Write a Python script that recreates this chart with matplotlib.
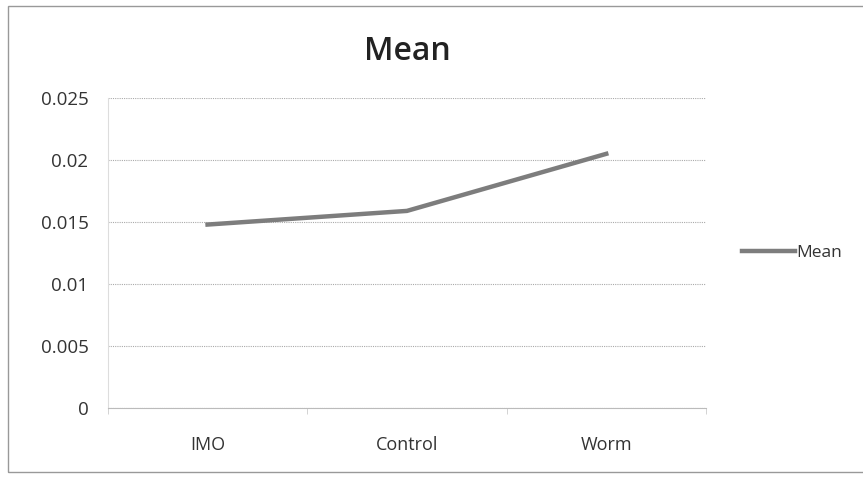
import matplotlib.pyplot as plt
from matplotlib.patches import Rectangle

categorias = ['IMO', 'Control', 'Worm']
medias = [0.0148, 0.0159, 0.0205]
yticks = [0, 0.005, 0.01, 0.015, 0.02, 0.025]
ytick_labels = ['0', '0.005', '0.01', '0.015', '0.02', '0.025']

plt.rcParams['font.family'] = ['Open Sans', 'DejaVu Sans']

fig = plt.figure(figsize=(8.63, 4.78), dpi=100)
ax = fig.add_axes([0.125, 0.146, 0.693, 0.649])

x = list(range(len(categorias)))
ax.plot(x, medias, color='#7d7d7d', linewidth=3.2, label='Mean')

ax.set_xlim(-0.5, len(categorias) - 0.5)
ax.set_ylim(0, 0.025)
ax.set_yticks(yticks)
ax.set_yticklabels(ytick_labels, fontsize=13.5, color='#333333')
ax.set_xticks(x)
ax.set_xticklabels(categorias, fontsize=13, color='#333333')
ax.tick_params(axis='y', length=0, pad=14)
ax.tick_params(axis='x', length=0, pad=20)
ax.set_xticks([-0.5, 0.5, 1.5, 2.5], minor=True)
ax.tick_params(axis='x', which='minor', length=4, color='#cccccc', direction='out')

ax.grid(axis='y', color='#aaaaaa', linestyle=(0, (1, 1)), linewidth=0.8)
for lado in ['top', 'right']:
    ax.spines[lado].set_visible(False)
ax.spines['left'].set_color('#dddddd')
ax.spines['bottom'].set_color('#bbbbbb')
ax.spines['bottom'].set_linestyle((0, (1, 1)))

ax.set_title('Mean', fontsize=23, fontweight='semibold', color='#222222', pad=27)

leg = ax.legend(loc='center left', bbox_to_anchor=(1.035, 0.5), frameon=False,
                fontsize=12.5, handlelength=3, handletextpad=0.1)
for t in leg.get_texts():
    t.set_color('#333333')

# marco gris alrededor del gráfico
fig.patches.append(Rectangle((0.009, 0.012), 0.995, 0.975, transform=fig.transFigure,
                             fill=False, edgecolor='#999999', linewidth=1))

plt.savefig('out.png', dpi=100)
